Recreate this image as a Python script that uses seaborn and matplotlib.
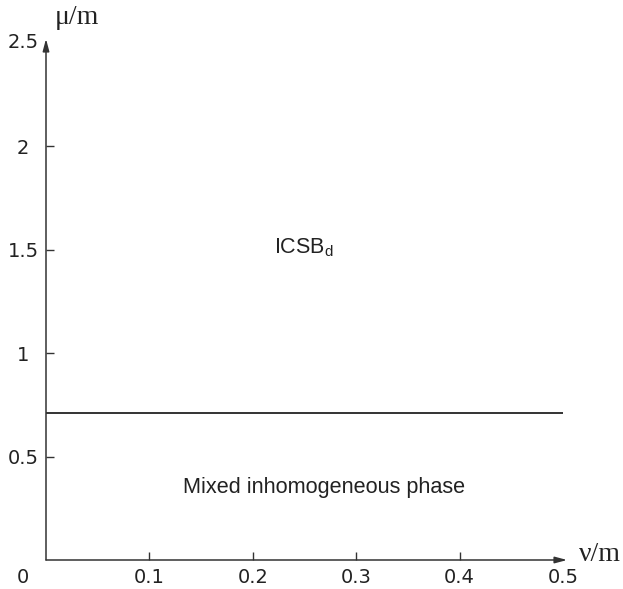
import numpy as np
import pandas as pd
import matplotlib
matplotlib.use("Agg")
import matplotlib.pyplot as plt
import seaborn as sns

# Phase boundary between the mixed inhomogeneous phase and ICSB_d
nu_over_m = [0.0, 0.5]
mu_over_m = [0.71, 0.71]

x_ticks = [0.1, 0.2, 0.3, 0.4, 0.5]
x_tick_labels = ["0.1", "0.2", "0.3", "0.4", "0.5"]
y_ticks = [0.5, 1.0, 1.5, 2.0, 2.5]
y_tick_labels = ["0.5", "1", "1.5", "2", "2.5"]

sns.set_theme(style="white")
plt.rcParams["font.family"] = ["DejaVu Sans"]
plt.rcParams["mathtext.fontset"] = "custom"
plt.rcParams["mathtext.rm"] = "Liberation Sans"

fig = plt.figure(figsize=(6.23, 5.89), dpi=100)
ax = fig.add_axes([46 / 623, 29 / 589, 517 / 623, 517 / 589])

df = pd.DataFrame({"nu": nu_over_m, "mu": mu_over_m})
sns.lineplot(data=df, x="nu", y="mu", ax=ax, color="#333333", linewidth=1.4)

ax.set_xlim(0, 0.5)
ax.set_ylim(0, 2.5)
ax.set_xlabel("")
ax.set_ylabel("")

for side in ["top", "right", "bottom", "left"]:
    ax.spines[side].set_visible(False)

axis_col = "#333333"
tick_fs = 14
tick_col = "#222222"
# Axes drawn as arrows
ax.annotate("", xy=(1.008, 0), xytext=(0, 0), xycoords="axes fraction",
            arrowprops=dict(arrowstyle="-|>,head_length=0.6,head_width=0.16",
                            color=axis_col, lw=1.1, shrinkA=0, shrinkB=0))
ax.annotate("", xy=(0, 1.008), xytext=(0, 0), xycoords="axes fraction",
            arrowprops=dict(arrowstyle="-|>,head_length=0.6,head_width=0.16",
                            color=axis_col, lw=1.1, shrinkA=0, shrinkB=0))

ax.set_xticks(x_ticks[:-1])
ax.set_xticklabels(x_tick_labels[:-1])
ax.set_yticks(y_ticks[:-1])
ax.set_yticklabels(y_tick_labels[:-1])
ax.tick_params(axis="x", direction="in", length=6, width=1, color=axis_col,
               labelsize=tick_fs, pad=6, labelcolor=tick_col, bottom=True)
ax.tick_params(axis="y", direction="in", length=6, width=1, color=axis_col,
               labelsize=tick_fs, pad=16.5, labelcolor=tick_col, left=True)
for lab in ax.get_yticklabels():
    lab.set_horizontalalignment("center")

# end labels without ticks, and the shared origin label
ax.text(0.5, -0.033, x_tick_labels[-1], transform=ax.get_xaxis_transform(),
        ha="center", va="center", fontsize=tick_fs, color=tick_col)
ax.text(-0.045, 2.5, y_tick_labels[-1], transform=ax.get_yaxis_transform(),
        ha="center", va="center", fontsize=tick_fs, color=tick_col)
ax.text(-0.045, -0.033, "0", transform=ax.transAxes,
        ha="center", va="center", fontsize=tick_fs, color=tick_col)

# axis titles
ax.text(0.016, 1.05, "μ/m", transform=ax.transAxes, ha="left", va="center",
        fontsize=20, family="Liberation Serif", color="#222222")
ax.text(1.03, 0.01, "ν/m", transform=ax.transAxes, ha="left", va="center",
        fontsize=20, family="Liberation Serif", color="#222222")

# phase labels
ax.text(0.2495, 1.51, r"ICSB$_{\rm d}$", ha="center", va="center",
        fontsize=15.5, family="Liberation Sans", color="#222222")
ax.text(0.269, 0.35, "Mixed inhomogeneous phase", ha="center", va="center",
        fontsize=15.6, family="Liberation Sans", color="#222222")

fig.savefig("out.png", dpi=100)
